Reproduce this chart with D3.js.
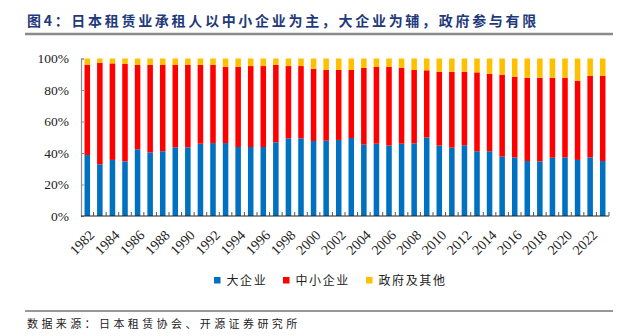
<!DOCTYPE html>
<html>
<head>
<meta charset="utf-8">
<script src="https://cdn.jsdelivr.net/npm/d3@7"></script>
<style>
  html, body { margin: 0; padding: 0; background: #fff; }
  svg { display: block; }
</style>
</head>
<body>
<svg id="chart" width="638" height="336"></svg>
<script>
const years = ["1982","1983","1984","1985","1986","1987","1988","1989","1990","1991",
  "1992","1993","1994","1995","1996","1997","1998","1999","2000","2001","2002","2003",
  "2004","2005","2006","2007","2008","2009","2010","2011","2012","2013","2014","2015",
  "2016","2017","2018","2019","2020","2021","2022","2023"];
const largeEnt = [38.7,32.8,35.6,34.7,42.3,40.4,41.1,43.6,43.6,45.9,46.3,46.3,43.8,43.8,43.8,
  46.8,49.3,49.3,47.6,47.8,48.3,49.5,45.3,45.9,44.7,45.9,46.1,49.8,44.7,43.4,44.9,41.1,
  41.1,37.7,37.2,34.9,34.7,37.0,37.2,35.6,37.2,34.9];
const smeEnt = [57.2,64.5,61.3,61.8,53.6,55.5,54.8,52.3,52.3,50.0,49.6,48.5,51.0,51.4,51.4,
  49.1,45.9,45.9,45.9,44.9,44.4,43.2,48.7,48.7,49.9,48.3,46.6,42.7,46.9,48.2,46.7,50.1,
  49.1,52.0,51.3,52.9,53.1,50.8,50.6,50.3,51.7,54.0];
const govOther = [4.1,2.7,3.1,3.5,4.1,4.1,4.1,4.1,4.1,4.1,4.1,5.2,5.2,4.8,4.8,4.1,4.8,4.8,
  6.5,7.3,7.3,7.3,6.0,5.4,5.4,5.8,7.3,7.5,8.4,8.4,8.4,8.8,9.8,10.3,11.5,12.2,12.2,12.2,
  12.2,14.1,11.1,11.1];
const seriesNames = ["大企业","中小企业","政府及其他"];
const seriesColors = ["#0070C0","#FF0000","#FFC000"];
const yTicks = [0,20,40,60,80,100];
const xLabelYears = ["1982","1984","1986","1988","1990","1992","1994","1996","1998","2000",
  "2002","2004","2006","2008","2010","2012","2014","2016","2018","2020","2022"];
const titleText = "图4：日本租赁业承租人以中小企业为主，大企业为辅，政府参与有限";
const sourceText = "数据来源：日本租赁协会、开源证券研究所";

(function () {
const svg = d3.select("#chart");
const cjk = "'Noto Sans CJK SC', 'Noto Sans', sans-serif";
const serif = "'Liberation Serif', 'DejaVu Serif', serif";

const pLeft = 81, pRight = 609, pTop = 58.5, pBottom = 216;

// title
svg.append("text").attr("x", 27).attr("y", 26)
  .attr("font-family", cjk).attr("font-size", 14).attr("font-weight", "bold")
  .attr("letter-spacing", 2.7).attr("fill", "#1F3A7A").text(titleText);
svg.append("line").attr("x1", 25).attr("x2", 613).attr("y1", 34).attr("y2", 34)
  .attr("stroke", "#8a8a8a").attr("stroke-width", 2.5);

const table = years.map((yy, i) => ({year: yy, a: largeEnt[i], b: smeEnt[i], c: govOther[i]}));
const stack = d3.stack().keys(["a","b","c"]);
const layers = stack(table);

const x = d3.scaleBand().domain(years).range([pLeft, pRight]).paddingInner(0.56).paddingOuter(0.28);
const xb = d3.scaleBand().domain(years).range([pLeft, pRight]);
const y = d3.scaleLinear().domain([0, 100]).range([pBottom, pTop]);

const g = svg.append("g");
layers.forEach((layer, li) => {
  g.selectAll(null).data(layer).enter().append("rect")
    .attr("x", d => x(d.data.year))
    .attr("width", x.bandwidth())
    .attr("y", d => y(d[1]))
    .attr("height", d => y(d[0]) - y(d[1]))
    .attr("fill", seriesColors[li]);
});

// y axis
const yAxis = d3.axisLeft(y).tickValues(yTicks).tickFormat(d => d + "%").tickSize(-3).tickPadding(12);
const ya = svg.append("g").attr("transform", `translate(${pLeft},0)`).call(yAxis);
ya.select(".domain").attr("stroke", "#8c8c8c").attr("stroke-width", 1.2);
ya.selectAll(".tick line").attr("stroke", "#8c8c8c");
ya.selectAll(".tick text").attr("font-family", serif).attr("font-size", 13.5).attr("fill", "#222");

// x axis
const xa = svg.append("g").attr("transform", `translate(0,${pBottom})`);
xa.append("line").attr("x1", pLeft).attr("x2", pRight).attr("y1", 0).attr("y2", 0)
  .attr("stroke", "#222").attr("stroke-width", 1.2);
const bounds = years.map(yy => xb(yy)).concat([xb(years[years.length-1]) + xb.bandwidth()]);
xa.selectAll(".xt").data(bounds.slice(1)).enter().append("line")
  .attr("x1", d => d).attr("x2", d => d).attr("y1", 0).attr("y2", -4)
  .attr("stroke", "#555").attr("stroke-width", 1);
xa.selectAll(".xl").data(xLabelYears).enter().append("text")
  .attr("transform", d => `translate(${xb(d) + xb.bandwidth()/2 + 1},${13}) rotate(-45)`)
  .attr("text-anchor", "end").attr("dy", "0.7em")
  .attr("font-family", serif).attr("font-size", 14).attr("fill", "#222")
  .text(d => d);

// legend
const legX = [214, 283, 366];
const leg = svg.append("g");
seriesNames.forEach((n, i) => {
  leg.append("rect").attr("x", legX[i]).attr("y", 277).attr("width", 6.5).attr("height", 6.5)
    .attr("fill", seriesColors[i]);
  leg.append("text").attr("x", legX[i] + 12.5).attr("y", 284.5)
    .attr("font-family", cjk).attr("font-size", 12).attr("letter-spacing", 1.6)
    .attr("fill", "#222").text(n);
});

// footer
svg.append("line").attr("x1", 25).attr("x2", 613).attr("y1", 311).attr("y2", 311)
  .attr("stroke", "#333").attr("stroke-width", 1);
svg.append("text").attr("x", 27).attr("y", 328)
  .attr("font-family", cjk).attr("font-size", 11).attr("letter-spacing", 3.4)
  .attr("fill", "#222").text(sourceText);
})();
</script>
</body>
</html>
